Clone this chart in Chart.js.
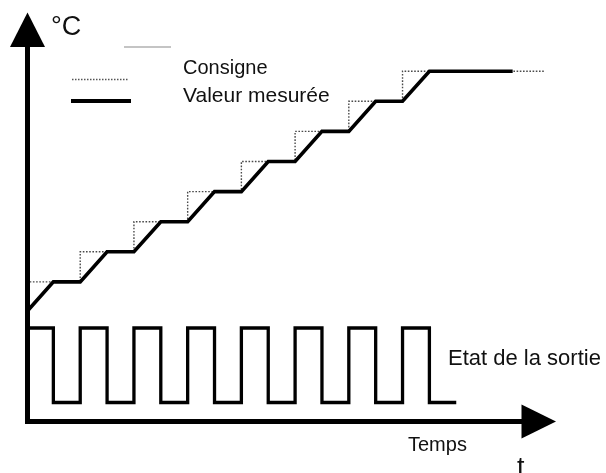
<!DOCTYPE html>
<html>
<head>
<meta charset="utf-8">
<script src="https://cdn.jsdelivr.net/npm/chart.js@4/dist/chart.umd.min.js"></script>
<style>
  html, body { margin: 0; padding: 0; background: #fff; }
  #wrap { width: 606px; height: 473px; position: relative; }
</style>
</head>
<body>
<div id="wrap"><canvas id="c"></canvas></div>
<script>
// ---- Data (time in half-periods, temperature in setpoint steps, output 0/1) ----
const setpointTime   = [0, 2, 4, 6, 8, 10, 12, 14, 19.3];
const setpointLevel  = [1, 2, 3, 4, 5, 6, 7, 8, 8];

const measuredTime   = [0, 1, 2, 3, 4, 5, 6, 7, 8, 9, 10, 11, 12, 13, 14, 15, 18.1];
const measuredLevel  = [0, 1, 1, 2, 2, 3, 3, 4, 4, 5, 5, 6, 6, 7, 7, 8, 8];

const outputTime     = [0, 1, 2, 3, 4, 5, 6, 7, 8, 9, 10, 11, 12, 13, 14, 15, 16];
const outputState    = [1, 0, 1, 0, 1, 0, 1, 0, 1, 0, 1, 0, 1, 0, 1, 0, 0];

const labelUnit      = "°C";
const labelTime      = "Temps";
const labelT         = "t";
const labelSetpoint  = "Consigne";
const labelMeasured  = "Valeur mesurée";
const labelOutput    = "Etat de la sortie";

const toXY = (xs, ys) => xs.map((x, i) => ({ x: x, y: ys[i] }));

const FONT = '"Liberation Sans", Arial, sans-serif';

const decor = {
  id: 'decor',
  afterDatasetsDraw(chart) {
    const ctx = chart.ctx;
    const xs = chart.scales.x, y2 = chart.scales.y2;
    const ox = xs.getPixelForValue(0) + 1;
    const oy = y2.getPixelForValue(-0.255);
    ctx.save();
    ctx.fillStyle = '#000';
    ctx.strokeStyle = '#000';
    // axes
    ctx.lineWidth = 5;
    ctx.lineCap = 'butt';
    ctx.beginPath();
    ctx.moveTo(ox, oy + 2.5);
    ctx.lineTo(ox, 46);
    ctx.moveTo(ox - 2.5, oy);
    ctx.lineTo(523, oy);
    ctx.stroke();
    // arrow heads
    ctx.beginPath();
    ctx.moveTo(ox, 12.5);
    ctx.lineTo(ox + 17.5, 47);
    ctx.lineTo(ox - 17.5, 47);
    ctx.closePath();
    ctx.fill();
    ctx.beginPath();
    ctx.moveTo(556, oy);
    ctx.lineTo(521.5, oy - 17);
    ctx.lineTo(521.5, oy + 17);
    ctx.closePath();
    ctx.fill();

    // legend lines
    ctx.lineWidth = 2;
    ctx.strokeStyle = '#c4c4c4';
    ctx.beginPath(); ctx.moveTo(124, 47); ctx.lineTo(171, 47); ctx.stroke();
    ctx.lineWidth = 1.3;
    ctx.strokeStyle = '#555';
    ctx.setLineDash([1.5, 1.5]);
    ctx.beginPath(); ctx.moveTo(72, 79.5); ctx.lineTo(129, 79.5); ctx.stroke();
    ctx.setLineDash([]);
    ctx.lineWidth = 4;
    ctx.strokeStyle = '#000';
    ctx.beginPath(); ctx.moveTo(71, 101); ctx.lineTo(131, 101); ctx.stroke();

    // texts
    ctx.textAlign = 'left';
    ctx.textBaseline = 'alphabetic';
    ctx.fillStyle = '#111';
    ctx.font = '27px ' + FONT;
    ctx.fillText(labelUnit, 51, 35);
    ctx.font = '20px ' + FONT;
    ctx.fillText(labelSetpoint, 183, 74);
    ctx.font = '21px ' + FONT;
    ctx.fillText(labelMeasured, 183, 102);
    ctx.font = '22px ' + FONT;
    ctx.fillText(labelOutput, 448, 365);
    ctx.font = '20px ' + FONT;
    ctx.fillText(labelTime, 408, 451);
    ctx.font = '27px ' + FONT;
    ctx.fillText(labelT, 517, 476);
    ctx.restore();
  }
};

new Chart(document.getElementById('c'), {
  type: 'line',
  data: {
    datasets: [
      {
        label: labelMeasured,
        data: toXY(measuredTime, measuredLevel),
        yAxisID: 'y',
        borderColor: '#000',
        borderWidth: 3.6,
        borderCapStyle: 'butt',
        borderJoinStyle: 'miter',
        tension: 0,
        pointRadius: 0,
        fill: false,
        order: 0
      },
      {
        label: labelSetpoint,
        data: toXY(setpointTime, setpointLevel),
        yAxisID: 'y',
        stepped: 'before',
        borderColor: '#4a4a4a',
        borderWidth: 1.4,
        borderDash: [1.6, 1.6],
        pointRadius: 0,
        fill: false,
        order: 1
      },
      {
        label: labelOutput,
        data: toXY(outputTime, outputState),
        yAxisID: 'y2',
        stepped: 'before',
        borderColor: '#000',
        borderWidth: 3.3,
        borderCapStyle: 'butt',
        borderJoinStyle: 'miter',
        pointRadius: 0,
        fill: false,
        order: 2
      }
    ]
  },
  options: {
    animation: false,
    responsive: true,
    maintainAspectRatio: false,
    layout: { padding: 0 },
    plugins: { legend: { display: false }, tooltip: { enabled: false } },
    scales: {
      x:  { type: 'linear', display: false, min: -0.9866, max: 21.575 },
      y:  { type: 'linear', display: false, min: -5.349, max: 10.365 },
      y2: { type: 'linear', display: false, min: -0.946, max: 5.403 }
    }
  },
  plugins: [decor]
});
</script>
</body>
</html>
